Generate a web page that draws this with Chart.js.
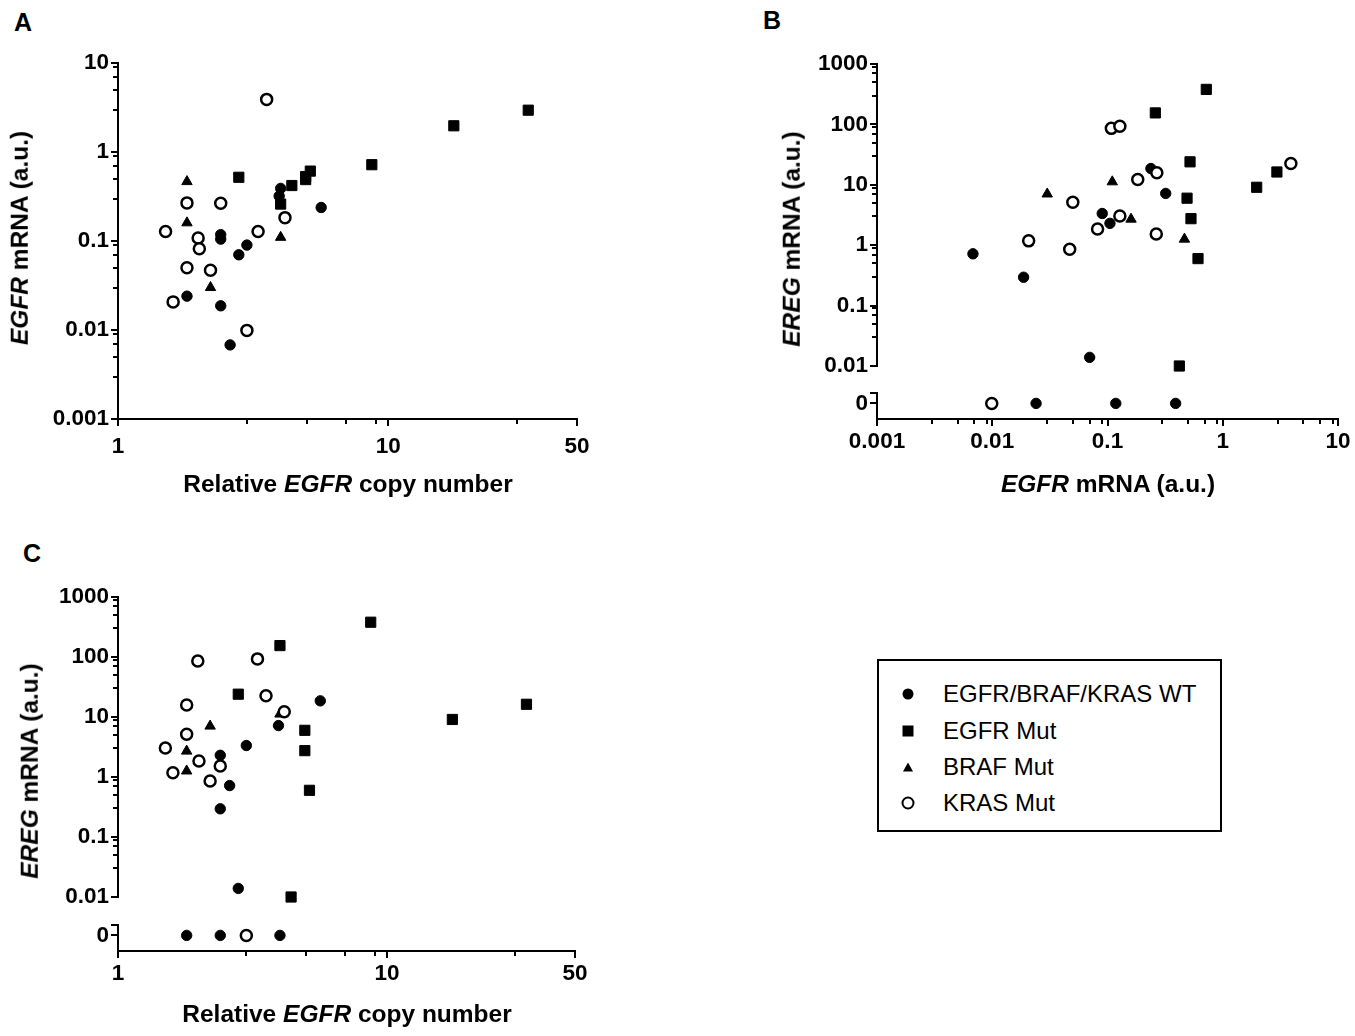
<!DOCTYPE html>
<html>
<head>
<meta charset="utf-8">
<script src="https://cdn.jsdelivr.net/npm/chart.js@4/dist/chart.umd.min.js"></script>
<style>
html,body{margin:0;padding:0;background:#fff;}
#page{position:relative;width:1355px;height:1036px;overflow:hidden;font-family:"Liberation Sans",Arial,Helvetica,sans-serif;color:#000;}
canvas{position:absolute;}
.t{position:absolute;white-space:nowrap;font-weight:bold;font-size:24.5px;line-height:1;transform:translate(-50%,-50%);}
.ty{transform:translate(-50%,-50%) rotate(-90deg);}
.pl{position:absolute;font-weight:bold;font-size:25px;line-height:1;transform:translate(-50%,-50%);}
#legend{position:absolute;left:877px;top:659px;width:341px;height:169px;border:2px solid #000;}
.row{position:absolute;left:0;width:100%;height:0;}
.mk{position:absolute;left:29px;top:0;transform:translate(-50%,-50%);box-sizing:border-box;}
.txt{position:absolute;left:64px;top:0;transform:translateY(-50%);font-size:24px;line-height:1;white-space:nowrap;}
.m-wt{width:11px;height:11px;border-radius:50%;background:#000;}
.m-eg{width:11px;height:11px;background:#000;}
.m-br{width:0;height:0;border-left:5.5px solid transparent;border-right:5.5px solid transparent;border-bottom:9.5px solid #000;}
.m-kr{width:13px;height:13px;border-radius:50%;border:2.5px solid #000;background:#fff;}
</style>
</head>
<body>
<div id="page">
  <canvas id="cA" width="600" height="440" style="left:0px;top:40px;"></canvas>
  <canvas id="cB" width="585" height="440" style="left:770px;top:40px;"></canvas>
  <canvas id="cC" width="600" height="440" style="left:0px;top:570px;"></canvas>

  <div class="pl" style="left:23px;top:22px;">A</div>
  <div class="pl" style="left:772px;top:20px;">B</div>
  <div class="pl" style="left:32px;top:553px;">C</div>

  <div class="t" style="left:348px;top:484px;">Relative <i>EGFR</i> copy number</div>
  <div class="t ty" style="left:20px;top:238px;"><i>EGFR</i> mRNA (a.u.)</div>

  <div class="t" style="left:1108px;top:484px;"><i>EGFR</i> mRNA (a.u.)</div>
  <div class="t ty" style="left:792px;top:239px;"><i>EREG</i> mRNA (a.u.)</div>

  <div class="t" style="left:347px;top:1014px;">Relative <i>EGFR</i> copy number</div>
  <div class="t ty" style="left:30px;top:771px;"><i>EREG</i> mRNA (a.u.)</div>

  <div id="legend">
    <div class="row" style="top:33px;"><div class="mk m-wt"></div><div class="txt">EGFR/BRAF/KRAS WT</div></div>
    <div class="row" style="top:70px;"><div class="mk m-eg"></div><div class="txt">EGFR Mut</div></div>
    <div class="row" style="top:106px;"><div class="mk m-br"></div><div class="txt">BRAF Mut</div></div>
    <div class="row" style="top:142px;"><div class="mk m-kr"></div><div class="txt">KRAS Mut</div></div>
  </div>
</div>
<script>
// ---------------- DATA (one entry per sample) ----------------
// EGFR/BRAF/KRAS wild type
const wtCopy = [5.65, 3.95, 3.0, 2.4, 2.6, 2.4, 2.8, 1.8, 2.4, 4.0];
const wtEgfr = [0.238, 0.32, 0.09, 0.105, 0.0068, 0.0187, 0.07, 0.024, 0.118, 0.39];
const wtEreg = [18.6, 7.2, 3.35, 2.3, 0.72, 0.295, 0.0139, 0, 0, 0];
// EGFR mutant
const egCopy = [4.0, 2.8, 4.95, 4.95, 5.15, 4.4, 8.7, 17.5, 33];
const egEgfr = [0.26, 0.52, 0.49, 0.53, 0.61, 0.42, 0.72, 1.97, 2.95];
const egEreg = [155, 24, 6.0, 2.75, 0.6, 0.01, 380, 9.1, 16.3];
// BRAF mutant
const brCopy = [1.8, 1.8, 4.0, 2.2];
const brEgfr = [0.465, 0.16, 0.11, 0.03];
const brEreg = [1.26, 2.7, 11.2, 7.05];
// KRAS mutant
const krCopy = [3.55, 3.0, 1.98, 3.3, 4.15, 1.8, 1.8, 1.5, 2.0, 2.4, 1.6, 2.2];
const krEgfr = [3.9, 0.0099, 0.108, 0.128, 0.183, 0.268, 0.05, 0.128, 0.082, 0.265, 0.0207, 0.047];
const krEreg = [22.6, 0, 86, 93, 12.2, 15.8, 5.15, 3.05, 1.85, 1.53, 1.18, 0.86];

// Tick labels
const copyTickLabels = [1, 10, 50];
const egfrTickLabelsA = [0.001, 0.01, 0.1, 1, 10];
const egfrTickLabelsB = [0.001, 0.01, 0.1, 1, 10];
const eregTickLabels = [0.01, 0.1, 1, 10, 100, 1000];
const zeroTickLabel = '0';

const groupNames = ['KRAS Mut', 'BRAF Mut', 'EGFR Mut', 'EGFR/BRAF/KRAS WT'];

// ---------------- STYLE ----------------
Chart.defaults.font.family = '"Liberation Sans", Arial, Helvetica, sans-serif';
Chart.defaults.color = '#000';
const TICK_FONT = {size: 22.5, weight: 'bold'};

const styles = {
  kr: {pointStyle: 'circle', pointRadius: 5.5, pointBackgroundColor: '#fff', pointBorderColor: '#000', pointBorderWidth: 2.5},
  br: {pointStyle: 'triangle', pointRadius: 6, pointBackgroundColor: '#000', pointBorderColor: '#000', pointBorderWidth: 1},
  eg: {pointStyle: 'rect', pointRadius: 7.2, pointBackgroundColor: '#000', pointBorderColor: '#000', pointBorderWidth: 1},
  wt: {pointStyle: 'circle', pointRadius: 5.2, pointBackgroundColor: '#000', pointBorderColor: '#000', pointBorderWidth: 1}
};

function oddTicks(min, max) {
  const out = [];
  const e0 = Math.floor(Math.log10(min) + 1e-9);
  for (let e = e0; Math.pow(10, e) <= max * 1.0001; e++) {
    const d = Math.pow(10, e);
    for (const m of [1, 3, 5, 7, 9]) {
      const v = +(m * d).toPrecision(6);
      if (v >= min * 0.9999 && v <= max * 1.0001) out.push(v);
    }
  }
  return out;
}

function gridOpts(side, labels) {
  return {
    display: true, drawOnChartArea: false, drawTicks: true, tickLength: 7,
    color: '#000', lineWidth: 2, tickWidth: 2, tickColor: '#000',
    tickBorderDash: (ctx) => {
      const v = ctx.tick ? ctx.tick.value : null;
      if (labels === null || labels.includes(v)) return [];
      return side === 'left' ? [0, 2, 4, 40] : [4, 40];
    }
  };
}

function logAxis(min, max, labels, side, pad, extra) {
  const list = oddTicks(min, max);
  return Object.assign({
    type: 'logarithmic', min: min, max: max,
    border: {display: true, color: '#000', width: 2},
    grid: gridOpts(side, labels),
    ticks: {autoSkip: false, maxRotation: 0, minRotation: 0, color: '#000',
      font: TICK_FONT, padding: pad,
      callback: (v) => labels.includes(v) ? String(v) : ''},
    afterBuildTicks: (s) => { s.ticks = list.map(v => ({value: v})); }
  }, extra);
}

function ds(name, xs, ys, st, axisId) {
  const data = xs.map((x, i) => ({x: x, y: ys[i]}));
  return Object.assign({label: name, data: data, showLine: false, clip: false, yAxisID: axisId}, st);
}
function splitZero(name, xs, ys, st) {
  const nzx = [], nzy = [], zx = [], zy = [];
  xs.forEach((x, i) => { if (ys[i] === 0) { zx.push(x); zy.push(0); } else { nzx.push(x); nzy.push(ys[i]); } });
  return [ds(name, nzx, nzy, st, 'y'), ds(name + ' (0)', zx, zy, st, 'yz')];
}

const groups = [
  {name: groupNames[0], copy: krCopy, egfr: krEgfr, ereg: krEreg, st: styles.kr},
  {name: groupNames[1], copy: brCopy, egfr: brEgfr, ereg: brEreg, st: styles.br},
  {name: groupNames[2], copy: egCopy, egfr: egEgfr, ereg: egEreg, st: styles.eg},
  {name: groupNames[3], copy: wtCopy, egfr: wtEgfr, ereg: wtEreg, st: styles.wt}
];

function baseOptions(padding, scales) {
  return {
    responsive: false, animation: false, events: [],
    plugins: {legend: {display: false}, tooltip: {enabled: false}},
    layout: {padding: padding},
    scales: scales
  };
}

function brokenY(yWidth, wLog, wGap, wZero) {
  return {
    y: logAxis(0.01, 1000, eregTickLabels, 'left', 2, {position: 'left', stack: 'v', stackWeight: wLog, weight: 3,
      afterFit: (s) => { s.width = yWidth; }}),
    yg: {type: 'linear', position: 'left', stack: 'v', stackWeight: wGap, weight: 2, display: true,
      border: {display: false}, grid: {display: false}, ticks: {display: false},
      afterFit: (s) => { s.width = yWidth; }},
    yz: {type: 'linear', position: 'left', stack: 'v', stackWeight: wZero, weight: 1, min: -1.5, max: 1,
      border: {display: true, color: '#000', width: 2},
      grid: gridOpts('left', null),
      ticks: {autoSkip: false, color: '#000', font: TICK_FONT, padding: 2,
        callback: (v) => v === 0 ? zeroTickLabel : ''},
      afterBuildTicks: (s) => { s.ticks = [{value: 1}, {value: 0}]; },
      afterFit: (s) => { s.width = yWidth; }}
  };
}

// ---------------- PANEL A ----------------
new Chart(document.getElementById('cA'), {
  type: 'scatter',
  data: {datasets: groups.map(g => ds(g.name, g.copy, g.egfr, g.st, 'y'))},
  options: baseOptions({left: 0, top: 23, right: 23, bottom: 16}, {
    x: logAxis(1, 50, copyTickLabels, 'bottom', 7, {position: 'bottom', afterFit: (s) => { s.height = 45; }}),
    y: logAxis(0.001, 10, egfrTickLabelsA, 'left', 2, {position: 'left', afterFit: (s) => { s.width = 118; }})
  })
});

// ---------------- PANEL B ----------------
const dsB = [];
groups.forEach(g => dsB.push(...splitZero(g.name, g.egfr, g.ereg, g.st)));
new Chart(document.getElementById('cB'), {
  type: 'scatter',
  data: {datasets: dsB},
  options: baseOptions({left: 0, top: 24, right: 17, bottom: 16}, Object.assign({
    x: logAxis(0.001, 10, egfrTickLabelsB, 'bottom', 2, {position: 'bottom', afterFit: (s) => { s.height = 45; }})
  }, brokenY(107, 302, 27, 26)))
});

// ---------------- PANEL C ----------------
const dsC = [];
groups.forEach(g => dsC.push(...splitZero(g.name, g.copy, g.ereg, g.st)));
new Chart(document.getElementById('cC'), {
  type: 'scatter',
  data: {datasets: dsC},
  options: baseOptions({left: 0, top: 27, right: 25, bottom: 14}, Object.assign({
    x: logAxis(1, 50, copyTickLabels, 'bottom', 2, {position: 'bottom', afterFit: (s) => { s.height = 45; }})
  }, brokenY(118, 300, 28, 26)))
});
</script>
</body>
</html>
